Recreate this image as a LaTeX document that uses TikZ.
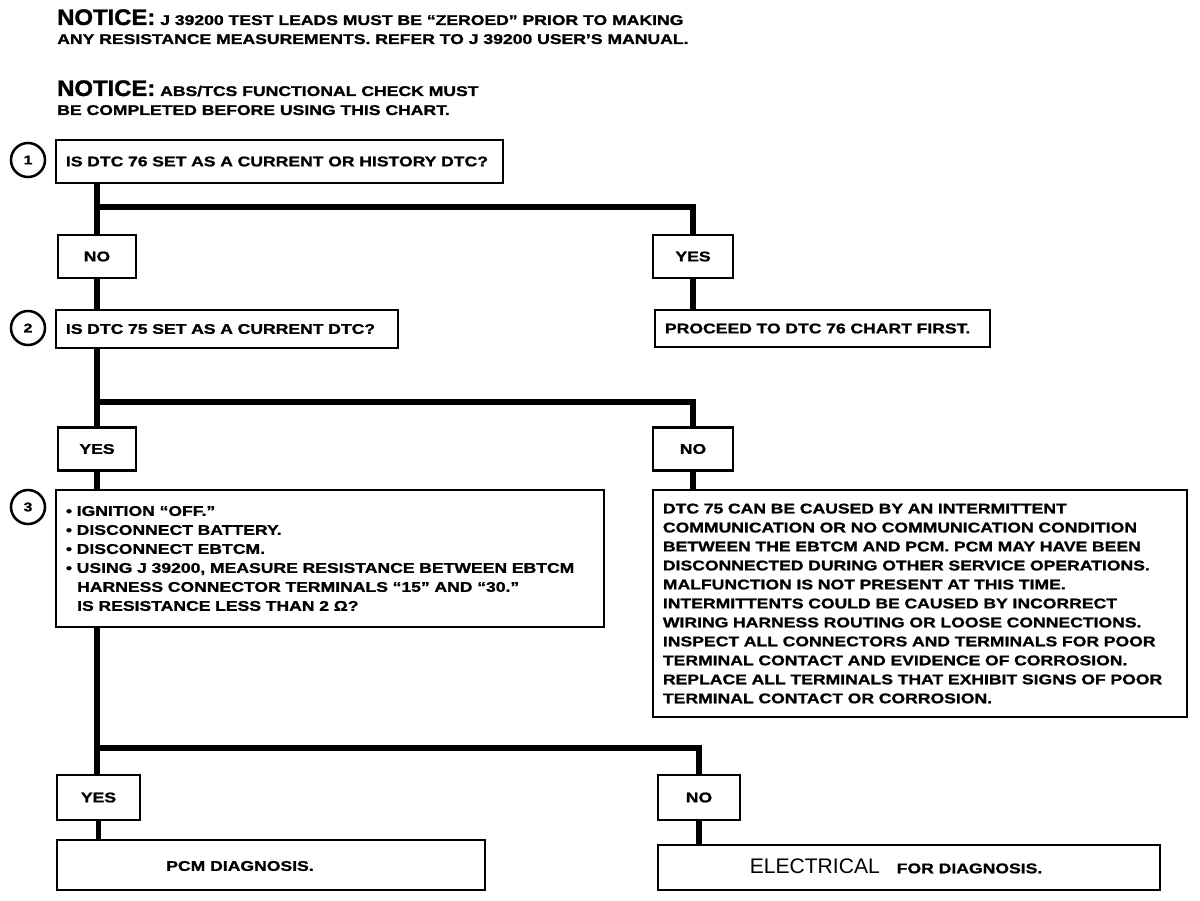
\documentclass[tikz,border=0pt]{standalone}
\usepackage{fontspec}
\setmainfont{Liberation Sans}[BoldFeatures={FakeStretch=1.25,FakeBold=1.2}]
\newfontfamily\headfont{Liberation Sans}[FakeBold=1.4,FakeStretch=1.06]
\usetikzlibrary{positioning}

\newcommand{\bodyfont}{\bfseries\fontsize{10}{13.5}\selectfont}
\newcommand{\notehead}[1]{{\headfont\fontsize{16}{17}\selectfont #1}}
\newcommand{\bl}{\textbullet\ }
\newcommand{\blskip}{\hspace*{0.8em}}

\tikzset{
  chartbox/.style={draw,line width=2pt,inner xsep=0.25cm,inner ysep=0pt,font=\bodyfont},
  answer/.style={chartbox,minimum width=1.95cm,minimum height=1.075cm,inner xsep=0pt},
  flow/.style={line width=4.2pt},
  stepnum/.style={circle,draw,line width=1.8pt,minimum size=0.85cm,inner sep=0pt,font=\bfseries\small},
  notice/.style={anchor=north west,align=left,inner sep=0pt,font=\bodyfont},
}

\begin{document}
\begin{tikzpicture}[x=0.025cm,y=-0.025cm]

\useasboundingbox (0,0) rectangle (1200,900);

% notices
\node[notice] (note1) at (57,9)
  {\notehead{NOTICE:} J 39200 TEST LEADS MUST BE ``ZEROED'' PRIOR TO MAKING\\
   ANY RESISTANCE MEASUREMENTS. REFER TO J 39200 USER'S MANUAL.};
\node[notice] (note2) at (57,80)
  {\notehead{NOTICE:} ABS/TCS FUNCTIONAL CHECK MUST\\
   BE COMPLETED BEFORE USING THIS CHART.};

% step 1
\node[stepnum] (s1) at (28,160) {1};
\node[chartbox,minimum width=11.175cm,minimum height=1.075cm,
      text width=10.675cm,align=left] (q1) at (279.5,161.5)
  {IS DTC 76 SET AS A CURRENT OR HISTORY DTC?};

\node[answer] (no1) at (97,256.5) {NO};
\node[answer,minimum width=2cm] (yes1) at (693,256.5) {YES};
\node[chartbox,minimum width=8.375cm,minimum height=0.925cm,
      text width=7.875cm,align=left] (act1) at (822.5,328.5)
  {PROCEED TO DTC 76 CHART FIRST.};

\coordinate (br1) at (97,207);
\draw[flow] (q1.south -| no1) -- (no1.north);
\draw[flow] (br1) -| (yes1.north);
\draw[flow] (yes1.south) -- (yes1 |- act1.north);

% step 2
\node[stepnum] (s2) at (28,328) {2};
\node[chartbox,minimum width=8.55cm,minimum height=0.95cm,
      text width=8.05cm,align=left] (q2) at (227,329)
  {IS DTC 75 SET AS A CURRENT DTC?};
\draw[flow] (no1.south) -- (no1 |- q2.north);

\node[answer] (yes2) at (97,449) {YES};
\node[answer,minimum width=2cm] (no2) at (693,449) {NO};

\coordinate (br2) at (97,402);
\draw[flow] (q2.south -| yes2) -- (yes2.north);
\draw[flow] (br2) -| (no2.north);

% step 3
\node[stepnum] (s3) at (28,507) {3};
\node[chartbox,minimum width=13.7cm,minimum height=3.425cm,
      text width=13.2cm,align=left] (q3) at (330,558.5)
  {\bl IGNITION ``OFF.''\\
   \bl DISCONNECT BATTERY.\\
   \bl DISCONNECT EBTCM.\\
   \bl USING J 39200, MEASURE RESISTANCE BETWEEN EBTCM\\
   \blskip HARNESS CONNECTOR TERMINALS ``15'' AND ``30.''\\
   \blskip IS RESISTANCE LESS THAN 2 Ω?};
\draw[flow] (yes2.south) -- (yes2 |- q3.north);

\node[chartbox,minimum width=13.35cm,minimum height=5.675cm,
      text width=12.85cm,align=left] (act2) at (920,603.5)
  {DTC 75 CAN BE CAUSED BY AN INTERMITTENT\\
   COMMUNICATION OR NO COMMUNICATION CONDITION\\
   BETWEEN THE EBTCM AND PCM. PCM MAY HAVE BEEN\\
   DISCONNECTED DURING OTHER SERVICE OPERATIONS.\\
   MALFUNCTION IS NOT PRESENT AT THIS TIME.\\
   INTERMITTENTS COULD BE CAUSED BY INCORRECT\\
   WIRING HARNESS ROUTING OR LOOSE CONNECTIONS.\\
   INSPECT ALL CONNECTORS AND TERMINALS FOR POOR\\
   TERMINAL CONTACT AND EVIDENCE OF CORROSION.\\
   REPLACE ALL TERMINALS THAT EXHIBIT SIGNS OF POOR\\
   TERMINAL CONTACT OR CORROSION.};
\draw[flow] (no2.south) -- (no2 |- act2.north);

\node[answer,minimum width=2.075cm,minimum height=1.125cm] (yes3) at (98.5,797.5) {YES};
\node[answer,minimum width=2.05cm,minimum height=1.125cm] (no3) at (699,797.5) {NO};

\coordinate (br3) at (97,748);
\draw[flow] (q3.south -| br3) -- (br3) -- (br3 |- yes3.north);
\draw[flow] (br3) -| (no3.north);

% results
\node[chartbox,minimum width=10.7cm,minimum height=1.25cm] (res1) at (271,865) {};
\node[font=\bodyfont,inner sep=0pt] (res1txt) at (240,866) {PCM DIAGNOSIS.};
\node[chartbox,minimum width=12.55cm,minimum height=1.125cm] (res2) at (909,867.5) {};
\node[inner sep=0pt] (res2txt) at (896,866)
  {{\fontsize{15}{16}\selectfont ELECTRICAL}\hspace{1.2em}{\bodyfont FOR DIAGNOSIS.}};
\draw[flow] (yes3.south) -- (yes3.south |- res1.north);
\draw[flow] (no3.south) -- (no3.south |- res2.north);

\end{tikzpicture}
\end{document}
